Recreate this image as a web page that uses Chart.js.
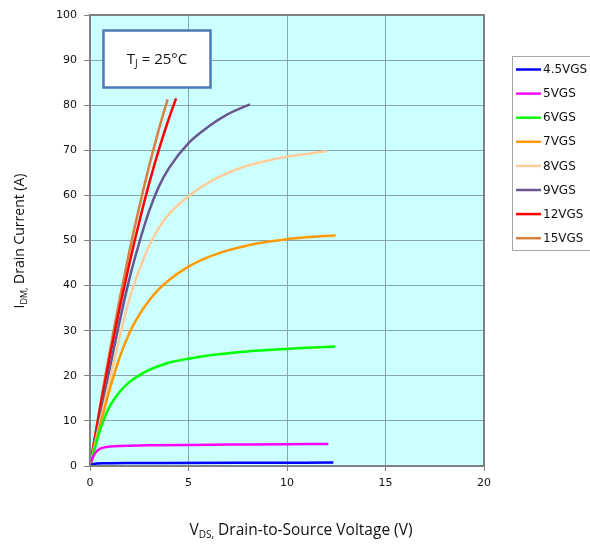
<!DOCTYPE html>
<html>
<head>
<meta charset="utf-8">
<script src="https://cdn.jsdelivr.net/npm/chart.js@4"></script>
<style>
  html, body { margin: 0; padding: 0; background: #ffffff; }
  #wrap { width: 590px; height: 546px; }
</style>
</head>
<body>
<div id="wrap"><canvas id="c" width="590" height="546"></canvas></div>
<script>
// Output characteristics: drain current vs drain-to-source voltage, one curve per gate drive
const seriesLabels = ['4.5VGS', '5VGS', '6VGS', '7VGS', '8VGS', '9VGS', '12VGS', '15VGS'];
const seriesColors = ['#0000FF', '#FF00FF', '#00FF00', '#FF9900', '#FFCC99', '#6A5690', '#FF0000', '#D88040'];

const vds45 = [0, 0.1, 0.2, 0.4, 0.7, 1, 2, 4, 8, 12.35];
const id45  = [0, 0.3, 0.45, 0.55, 0.6, 0.62, 0.65, 0.68, 0.72, 0.75];

const vds5 = [0, 0.1, 0.2, 0.35, 0.5, 0.75, 1, 1.5, 2, 3, 5, 8, 10, 12.1];
const id5  = [0, 1.4, 2.4, 3.3, 3.8, 4.15, 4.3, 4.45, 4.5, 4.58, 4.68, 4.78, 4.84, 4.9];

const vds6 = [0, 0.25, 0.5, 0.75, 1, 1.5, 2, 2.5, 3, 4, 5, 6, 7, 8, 9, 10, 11, 12.45];
const id6  = [0, 4, 7.8, 10.8, 13.2, 16.4, 18.6, 20.1, 21.3, 22.9, 23.8, 24.5, 25, 25.4, 25.7, 25.95, 26.2, 26.5];

const vds7 = [0, 0.5, 1, 1.5, 2, 2.5, 3, 3.5, 4, 5, 6, 7, 8, 9, 10, 11, 12.47];
const id7  = [0, 8.7, 17, 24, 29.5, 33.5, 36.7, 39.2, 41.2, 44.2, 46.3, 47.8, 48.9, 49.7, 50.3, 50.7, 51.1];

const vds8 = [0, 0.5, 1, 1.5, 2, 2.5, 3, 3.5, 4, 5, 6, 7, 8, 9, 10, 11, 12.01];
const id8  = [0, 9.5, 19, 28.5, 37, 43.5, 48.8, 52.8, 55.8, 59.8, 62.8, 65, 66.6, 67.7, 68.6, 69.2, 69.8];

const vds9 = [0, 0.5, 1, 1.5, 2, 2.5, 3, 3.5, 4, 5, 6, 7, 8.12];
const id9  = [0, 10.5, 21.5, 32, 41.5, 49.5, 56.5, 62, 66, 71.6, 75.2, 78, 80.2];

const vds12 = [0, 0.5, 1, 1.5, 2, 2.5, 3, 3.5, 4, 4.37];
const id12  = [0, 12.4, 24.1, 34.9, 44.9, 54.1, 62.6, 70.2, 77, 81.5];

const vds15 = [0, 0.5, 1, 1.5, 2, 2.5, 3, 3.5, 3.94];
const id15  = [0, 13.1, 25.4, 36.9, 47.6, 57.4, 66.5, 74.7, 81.3];

const xValues = [vds45, vds5, vds6, vds7, vds8, vds9, vds12, vds15];
const yValues = [id45, id5, id6, id7, id8, id9, id12, id15];

const xMin = 0, xMax = 20, xStep = 5;
const yMin = 0, yMax = 100, yStep = 10;

const GRID = '#87A7A7';
const FRAME = '#808080';
const TICK_FONT = { family: 'DejaVu Sans', size: 11 };

const datasets = seriesLabels.map((label, i) => ({
  label,
  data: xValues[i].map((x, k) => ({ x, y: yValues[i][k] })),
  borderColor: seriesColors[i],
  backgroundColor: seriesColors[i],
  borderWidth: 2.5,
  pointRadius: 0,
  showLine: true,
  fill: false,
  cubicInterpolationMode: 'monotone'
}));

// text with lowered, smaller subscript runs: parts = [[text, isSub], ...]
function partsWidth(ctx, parts, big, small, family) {
  let w = 0;
  for (const [t, sub] of parts) {
    ctx.font = (sub ? small : big) + 'px ' + family;
    w += ctx.measureText(t).width;
  }
  return w;
}
function drawParts(ctx, parts, x, y, big, small, family, drop) {
  let cx = x;
  for (const [t, sub] of parts) {
    ctx.font = (sub ? small : big) + 'px ' + family;
    ctx.fillText(t, cx, sub ? y + drop : y);
    cx += ctx.measureText(t).width;
  }
}

const decor = {
  id: 'decor',
  beforeDraw(chart) {
    const { ctx, chartArea: a } = chart;
    ctx.save();
    ctx.fillStyle = '#CCFFFF';
    ctx.fillRect(a.left, a.top, a.right - a.left, a.bottom - a.top);
    ctx.restore();
  },
  afterDatasetsDraw(chart) {
    const { ctx, chartArea: a } = chart;
    ctx.save();
    // plot frame
    ctx.strokeStyle = FRAME;
    ctx.lineWidth = 2;
    ctx.strokeRect(a.left, a.top, a.right - a.left, a.bottom - a.top);

    // junction temperature note
    ctx.fillStyle = '#FFFFFF';
    ctx.fillRect(103.5, 30.5, 107, 57);
    ctx.strokeStyle = '#4F7AB5';
    ctx.lineWidth = 2.5;
    ctx.strokeRect(103.5, 30.5, 107, 57);
    ctx.fillStyle = '#111111';
    ctx.textBaseline = 'alphabetic';
    ctx.textAlign = 'left';
    const fam = '"Open Sans", sans-serif';
    const tj = [['T', false], ['J', true], [' = 25°C', false]];
    const w = partsWidth(ctx, tj, 15, 10, fam);
    drawParts(ctx, tj, 157 - w / 2, 64, 15, 10, fam, 3);

    // axis titles
    const xt = [['V', false], ['DS', true], [',', true], [' Drain-to-Source Voltage (V)', false]];
    const xw = partsWidth(ctx, xt, 15.5, 10, fam);
    drawParts(ctx, xt, 301 - xw / 2, 535, 15.5, 10, fam, 3);

    const yt = [['I', false], ['DM', true], [',', true], [' Drain Current (A)', false]];
    const yw = partsWidth(ctx, yt, 14, 9, fam);
    ctx.translate(24, 241);
    ctx.rotate(-Math.PI / 2);
    drawParts(ctx, yt, -yw / 2, 0, 14, 9, fam, 3);
    ctx.setTransform(1, 0, 0, 1, 0, 0);

    // legend
    ctx.fillStyle = '#FFFFFF';
    ctx.fillRect(512.5, 56.5, 90, 194);
    ctx.strokeStyle = '#A6A6A6';
    ctx.lineWidth = 1;
    ctx.strokeRect(512.5, 56.5, 90, 194);
    ctx.font = '12px "DejaVu Sans"';
    ctx.textBaseline = 'middle';
    chart.data.datasets.forEach((ds, i) => {
      const yy = 69.5 + i * 24.1;
      ctx.strokeStyle = ds.borderColor;
      ctx.lineWidth = 2.5;
      ctx.beginPath();
      ctx.moveTo(516, yy);
      ctx.lineTo(541, yy);
      ctx.stroke();
      ctx.fillStyle = '#111111';
      ctx.fillText(ds.label, 543, yy + 0.5);
    });
    ctx.restore();
  }
};

new Chart(document.getElementById('c'), {
  type: 'scatter',
  data: { datasets },
  options: {
    responsive: false,
    animation: false,
    layout: { padding: { left: 0, right: 106, top: 15, bottom: 0 } },
    plugins: { legend: { display: false }, tooltip: { enabled: false } },
    scales: {
      x: {
        type: 'linear',
        min: xMin, max: xMax,
        ticks: { stepSize: xStep, color: '#111111', font: TICK_FONT, padding: 6, maxRotation: 0 },
        grid: { color: GRID, lineWidth: 1, tickLength: 5, tickColor: FRAME },
        border: { color: FRAME, width: 2 },
        afterFit(s) { s.height = 80; }
      },
      y: {
        type: 'linear',
        min: yMin, max: yMax,
        ticks: { stepSize: yStep, color: '#111111', font: TICK_FONT, padding: 7 },
        grid: { color: GRID, lineWidth: 1, tickLength: 6, tickColor: FRAME },
        border: { color: FRAME, width: 2 },
        afterFit(s) { s.width = 90; }
      }
    }
  },
  plugins: [decor]
});
</script>
</body>
</html>
